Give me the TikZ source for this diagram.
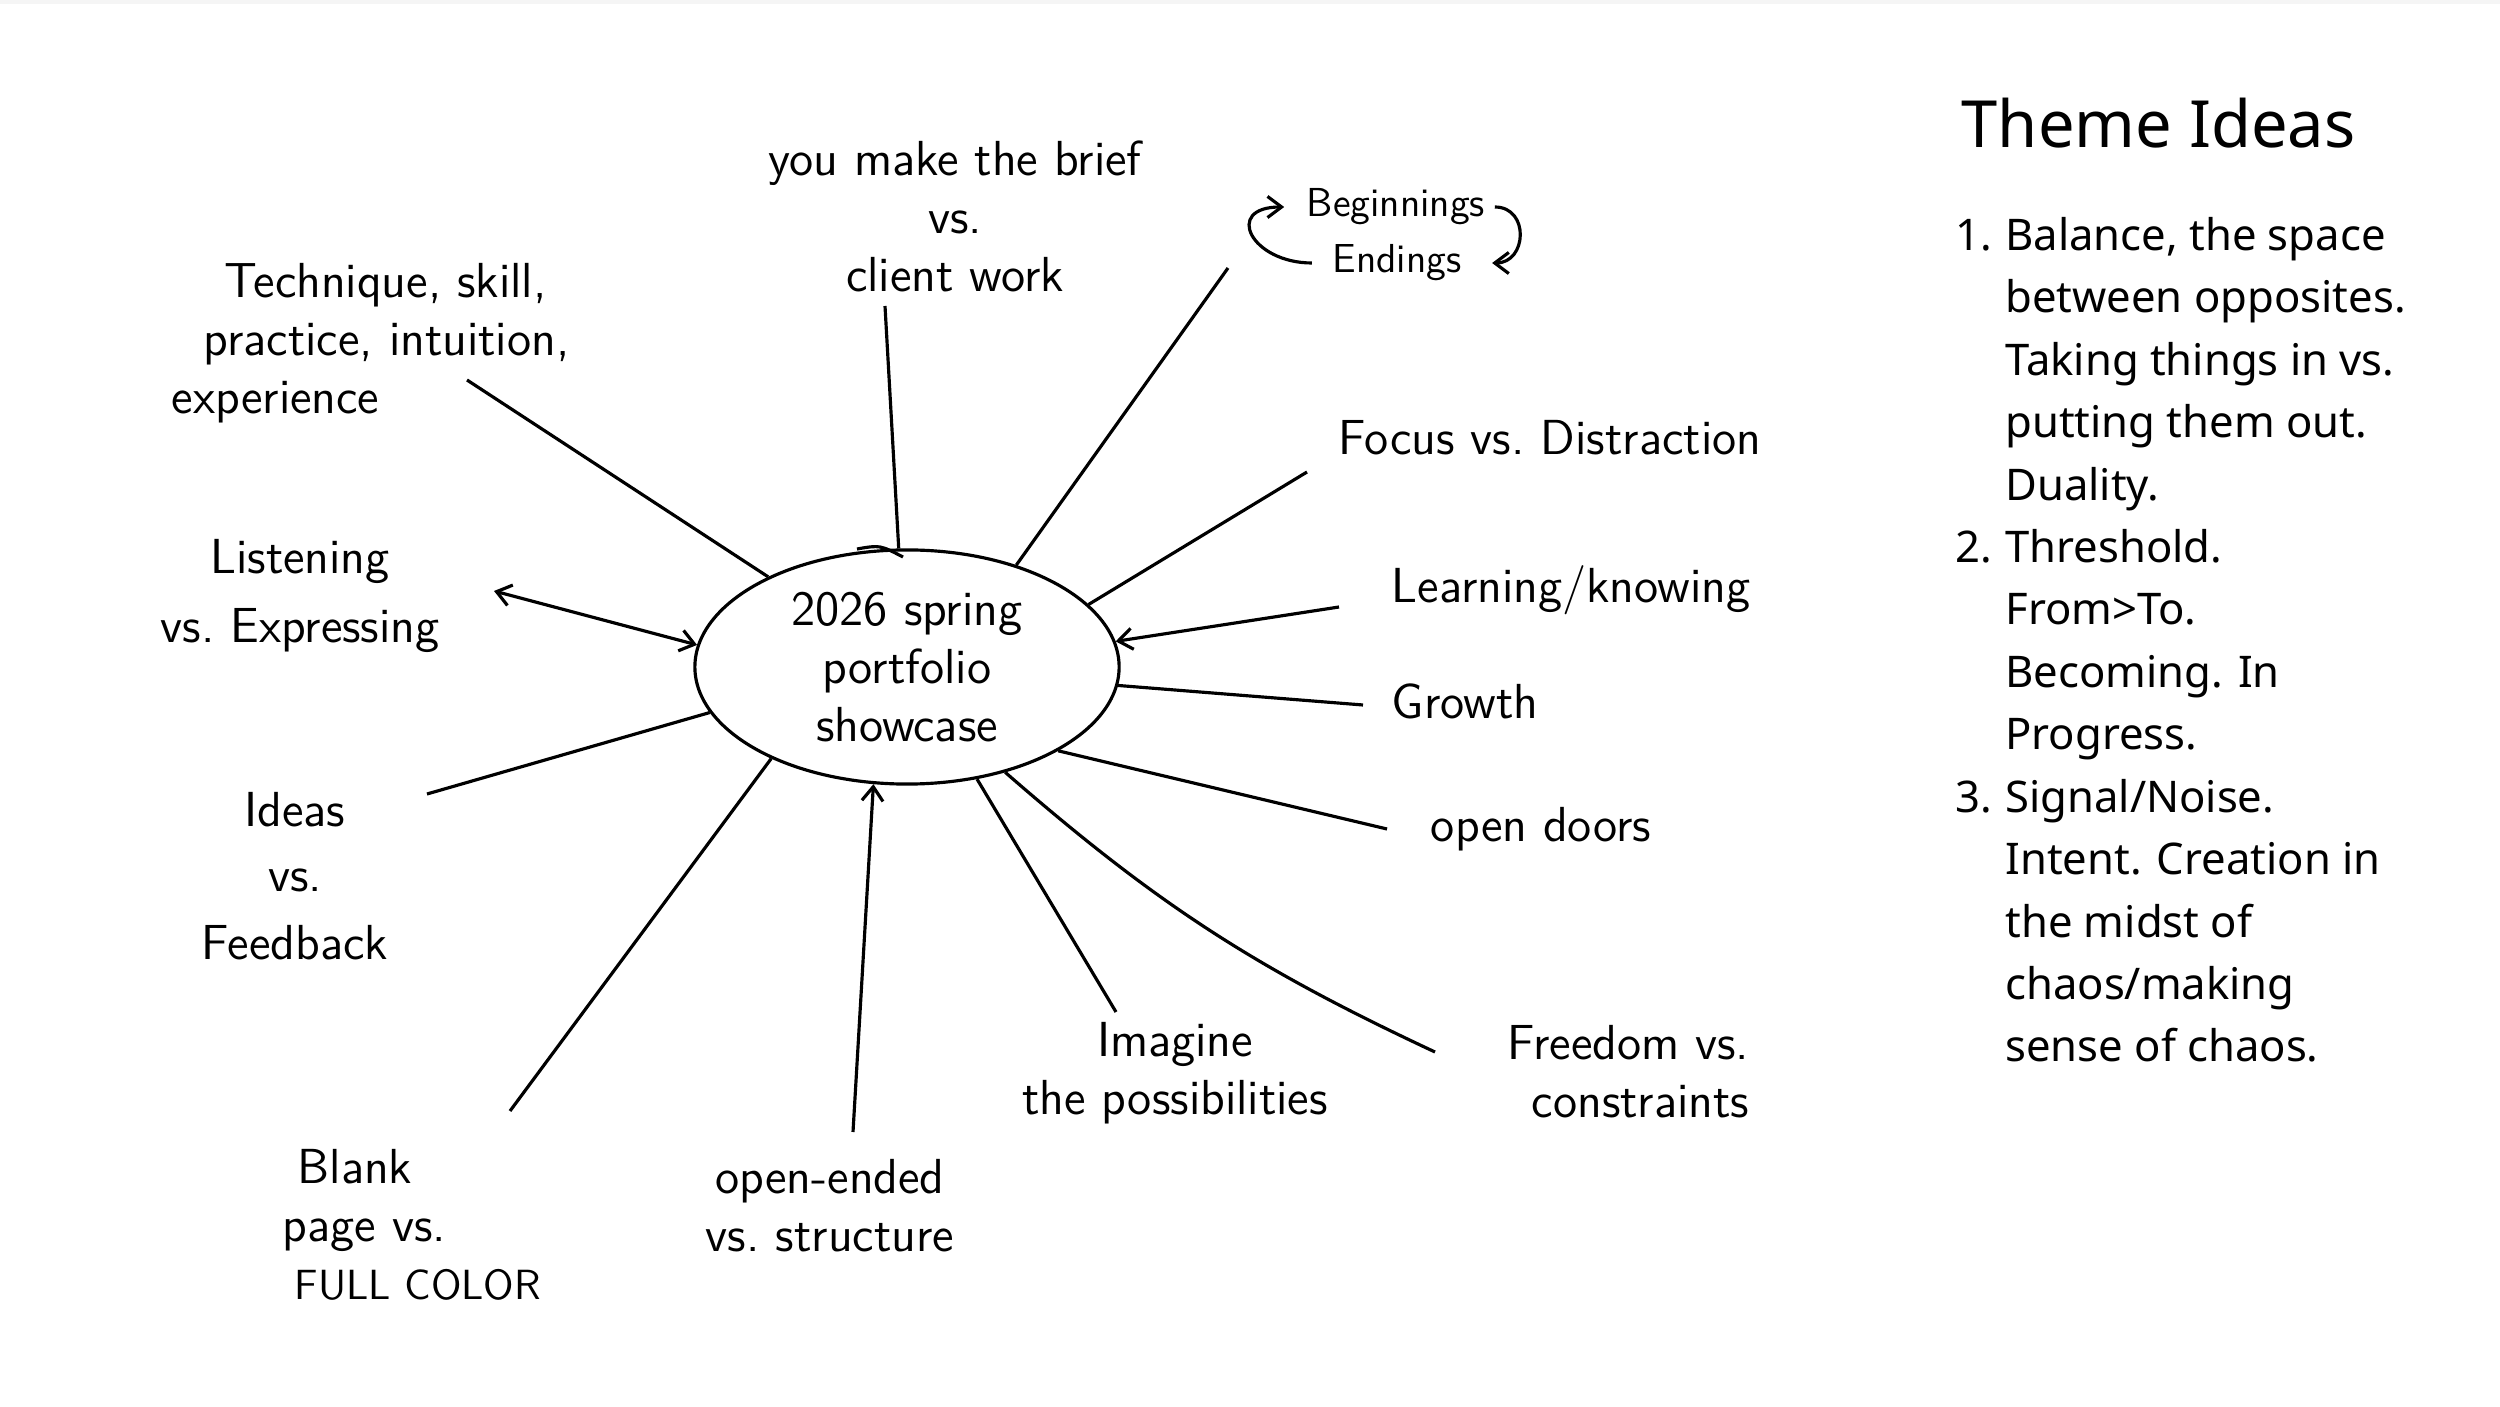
\documentclass[tikz,border=0pt]{standalone}
\usepackage{fontspec}
\newfontfamily\notofont{Noto Sans}
\usetikzlibrary{arrows.meta,shapes.geometric}

\tikzset{
  hand/.style={font=\sffamily\frenchspacing\fontsize{14}{16.5}\selectfont, align=center, inner sep=0pt},
  smallhand/.style={font=\sffamily\fontsize{11.5}{13}\selectfont, inner sep=0pt},
  spoke/.style={line width=0.9pt},
  barb/.style={-{Straight Barb[length=4pt,width=6pt]}},
  twobarb/.style={{Straight Barb[length=4pt,width=6pt]}-{Straight Barb[length=4pt,width=6pt]}}
}

\begin{document}
\begin{tikzpicture}[x=0.01cm,y=-0.01cm]
        \useasboundingbox (0,0) rectangle (2500,1407);
        \fill[gray!8] (0,0) rectangle (2500,4);

        \node[draw,ellipse,line width=0.9pt,minimum width=4.24cm,minimum height=2.34cm,hand,text depth=0pt] (hub) at (907,667) {2026 spring\\portfolio\\showcase};
        \draw[spoke] (857,549) .. controls (880,545) .. (903,557);

        \node[hand] (brief) at (955,216) {you make the brief\\vs.\\client work};
        \node[hand,align=left,anchor=west] (technique) at (171,343) {\hspace*{0.53cm}Technique, skill,\\\hspace*{0.32cm}practice, intuition,\\experience};
        \node[smallhand] (begin) at (1396,207) {Beginnings};
        \node[smallhand] (end) at (1397,263) {Endings};
        \node[hand] (focus) at (1550,438) {Focus vs. Distraction};
        \node[hand] (learning) at (1571,590) {Learning/knowing};
        \node[hand] (growth) at (1465,701) {Growth};
        \node[hand] (doors) at (1541,829) {open doors};
        \node[hand,align=right,anchor=east] (freedom) at (1750,1072) {Freedom vs.\\constraints};
        \node[hand] (imagine) at (1175,1073) {Imagine\\the possibilities};
        \node[hand] (openended) at (830,1206) {open-ended\\vs. structure};
        \node[hand,align=left,anchor=west] (blank) at (282,1225) {\hspace*{0.15cm}Blank\\page vs.\\\hspace*{0.12cm}{\fontsize{12}{14}\selectfont FULL COLOR}};
        \node[hand] (ideas) at (295,876) {Ideas\\[2pt]vs.\\[3pt]Feedback};
        \node[hand] (listening) at (300,596) {Listening\\[3pt]vs. Expressing};

        \coordinate (tq) at (467,380);
        \coordinate (br) at (885,306);
        \coordinate (bg) at (1228,268);
        \coordinate (fo) at (1307,472);
        \coordinate (le) at (1339,607);
        \coordinate (gr) at (1363,705);
        \coordinate (od) at (1387,829);
        \coordinate (fr) at (1435,1052);
        \coordinate (im) at (1116,1012);
        \coordinate (oe) at (853,1132);
        \coordinate (bl) at (510,1111);
        \coordinate (id) at (427,794);
        \coordinate (li) at (494,591);

        \foreach \a/\c in {147/tq,94/br,43/bg,19/fo,355/gr,331/od,302/im,214/bl,193/id}
            \draw[spoke] (hub.\a) -- (\c);
        \draw[spoke] (hub.313) to[bend right=8] (fr);
        \draw[spoke,barb] (le) -- (hub.7);
        \draw[spoke,barb] (oe) -- (hub.254);
        \draw[spoke,twobarb] (li) -- (hub.174);

        \draw[spoke,barb] ([xshift=-0.2cm]end.west) to[out=180,in=180,looseness=2.5] ([xshift=-0.22cm]begin.west);
        \draw[spoke,barb] ([xshift=0.09cm]begin.east) to[out=0,in=0,looseness=1.6] ([xshift=0.3cm]end.east);

        \node[anchor=base west,inner sep=0pt,font=\notofont\fontsize{18.5}{22}\selectfont] (title) at (1961,148) {Theme Ideas};
        \node[anchor=north west,inner sep=0pt,font=\notofont\fontsize{12.4}{17.75}\selectfont] (themelist) at (1955,206) {%
            \begin{tabular}{@{}l@{\hspace{0.13cm}}l@{}}
            1. & Balance, the space\\
               & between opposites.\\
               & Taking things in vs.\\
               & putting them out.\\
               & Duality.\\
            2. & Threshold.\\
               & From>To.\\
               & Becoming. In\\
               & Progress.\\
            3. & Signal/Noise.\\
               & Intent. Creation in\\
               & the midst of\\
               & chaos/making\\
               & sense of chaos.
            \end{tabular}};
    \end{tikzpicture}
\end{document}
